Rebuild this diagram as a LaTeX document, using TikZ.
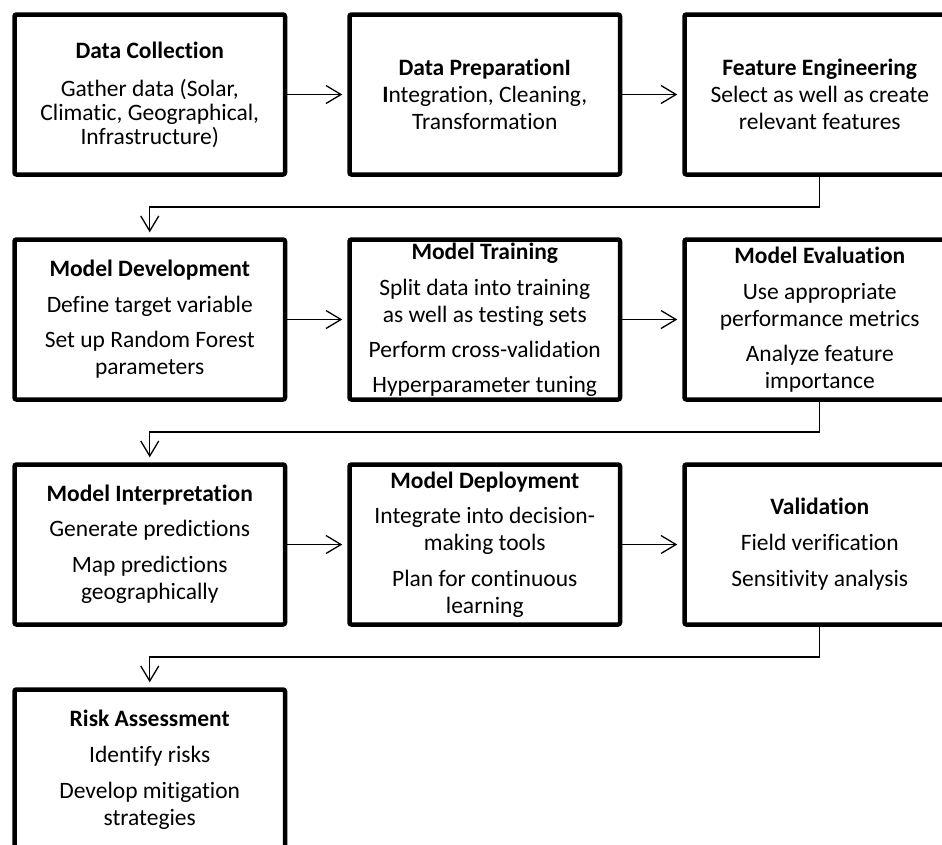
\documentclass[tikz,border=0pt]{standalone}
\usepackage{fontspec}
\setmainfont{Carlito}[Ligatures=NoCommon]
\usepackage{tikz}
\usetikzlibrary{arrows.meta,positioning}
\tikzset{
  stage/.style={rectangle, rounded corners=2pt, draw=black, line width=4.5pt, fill=white,
                minimum width=270.5pt, minimum height=160pt, inner sep=1pt, align=center,
                font=\fontsize{23.5}{27}\selectfont},
  flow/.style={-{Straight Barb[length=15pt,width=18pt]}, line width=1.3pt, shorten >=5pt},
}
\begin{document}
\begin{tikzpicture}[node distance=60.5pt and 60pt]
\path[use as bounding box, clip] (0,0) rectangle (942pt,-844pt);
\node[stage, anchor=north west] (coll) at (12.25pt,-12.25pt)
  {\textbf{Data Collection}\\[11pt]Gather data (Solar,\\[-3pt]Climatic, Geographical,\\[-3pt]Infrastructure)};
\node[stage, right=of coll] (prep)
  {\textbf{Data PreparationI}\\\textbf{I}ntegration, Cleaning,\\Transformation};
\node[stage, right=of prep] (feat)
  {\textbf{Feature Engineering}\\Select as well as create\\relevant features};

\node[stage, below=of coll] (dev)
  {\textbf{Model Development}\\[9pt]Define target variable\\[8pt]Set up Random Forest\\parameters};
\node[stage, right=of dev] (train)
  {\textbf{Model Training}\\[9pt]Split data into training\\as well as testing sets\\[8pt]Perform cross-validation\\[8pt]Hyperparameter tuning};
\node[stage, right=of train] (eval)
  {\textbf{Model Evaluation}\\[9pt]Use appropriate\\performance metrics\\[8pt]Analyze feature\\importance};

\node[stage, below=of dev] (interp)
  {\textbf{Model Interpretation}\\[8pt]Generate predictions\\[9pt]Map predictions\\geographically};
\node[stage, right=of interp] (deploy)
  {\textbf{Model Deployment}\\[8pt]Integrate into decision-\\making tools\\[9pt]Plan for continuous\\learning};
\node[stage, right=of deploy] (valid)
  {\textbf{Validation}\\[9pt]Field verification\\[9pt]Sensitivity analysis};

\node[stage, below=of interp] (risk)
  {\textbf{Risk Assessment}\\[9pt]Identify risks\\[9pt]Develop mitigation\\strategies};

% arrows within a row
\foreach \a/\b in {coll/prep, prep/feat, dev/train, train/eval, interp/deploy, deploy/valid}
  \draw[flow] (\a) -- (\b);
% arrows to the next row
\foreach \a/\b in {feat/dev, eval/interp, valid/risk}
  \draw[flow] (\a.south) -- ++(0,-30.25pt) -| (\b.north);
\end{tikzpicture}
\end{document}
